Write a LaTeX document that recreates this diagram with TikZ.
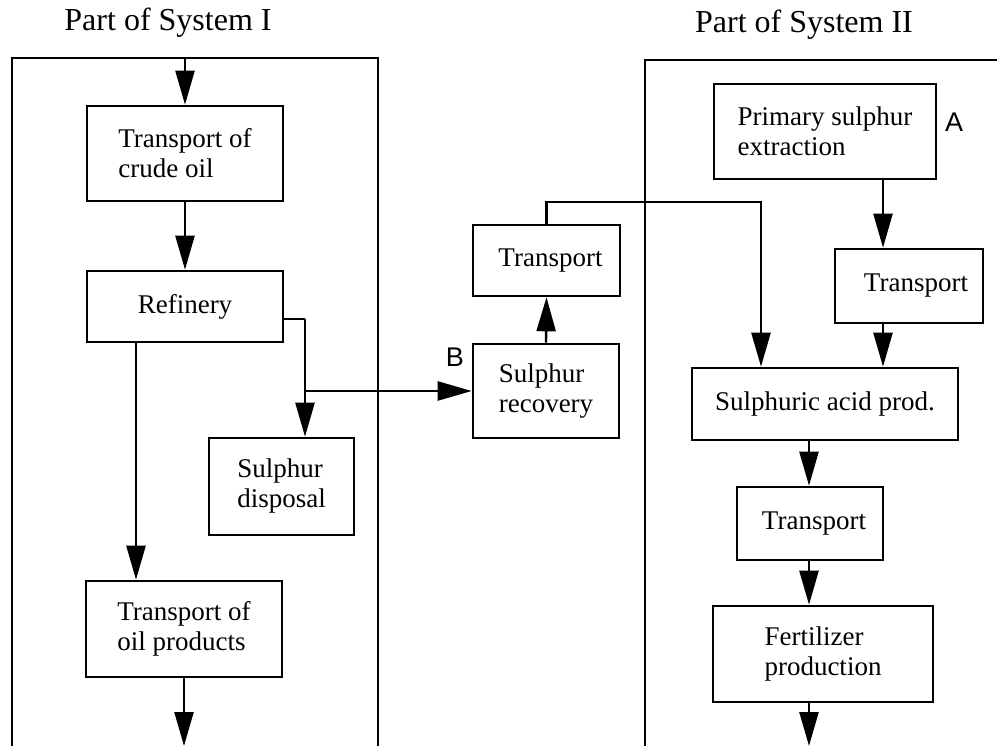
\documentclass[tikz,border=0pt]{standalone}
\usepackage{fontspec}
\setmainfont{Liberation Serif}
\newfontfamily\lettfont{Liberation Sans}
\usetikzlibrary{arrows.meta}
\begin{document}
\begin{tikzpicture}[x=1pt,y=-1pt,
  procbox/.style={draw,line width=2.6pt,inner sep=0pt,align=left,
    font=\fontsize{27}{30}\selectfont},
  frameline/.style={line width=2.4pt},
  conn/.style={line width=2.4pt},
  arr/.style={conn,-{Triangle[length=34pt,width=19pt]}},
  title/.style={font=\fontsize{32}{36}\selectfont},
  letter/.style={font=\lettfont\fontsize{27}{32}\selectfont}]
\useasboundingbox (0,0) rectangle (997,746);
% frames
\draw[frameline] (12,746) -- (12,58) -- (378,58) -- (378,746);
\draw[frameline] (645,746) -- (645,60) -- (997,60);
\node[title] (t1) at (168,23) {Part of System I};
\node[title] (t2) at (804,25) {Part of System II};
% System I boxes
\node[procbox,minimum width=196pt,minimum height=95pt] (crude) at (185,153.5) {Transport of\\crude oil};
\node[procbox,minimum width=196pt,minimum height=71pt] (ref) at (185,306.5) {Refinery};
\node[procbox,minimum width=145pt,minimum height=97pt] (disp) at (281.5,486.5) {Sulphur\\disposal};
\node[procbox,minimum width=196pt,minimum height=96pt] (oilp) at (184,629) {Transport of\\oil products};
% middle boxes
\node[procbox,minimum width=147pt,minimum height=71pt] (tl) at (546.5,260.5) {\hspace*{8pt}Transport};
\node[procbox,minimum width=146pt,minimum height=94pt] (rec) at (546,391) {Sulphur\\recovery};
% System II boxes
\node[procbox,minimum width=222pt,minimum height=95pt] (ps) at (825,131.5) {Primary sulphur\\extraction};
\node[procbox,minimum width=148pt,minimum height=74pt] (tr) at (909,286) {\hspace*{14pt}Transport};
\node[procbox,minimum width=266pt,minimum height=72pt] (sa) at (825,404) {Sulphuric acid prod.};
\node[procbox,minimum width=146pt,minimum height=73pt] (tb) at (810,523.5) {\hspace*{8pt}Transport};
\node[procbox,minimum width=220pt,minimum height=96pt] (fp) at (823,654) {Fertilizer\\production};
% letters
\node[letter] (la) at (954,122) {A};
\node[letter] (lb) at (455,357) {B};
% helper coordinates
\coordinate (in1) at (185,58);
\coordinate (out1) at (183,746);
\coordinate (out2) at (809,746);
\coordinate (xr) at (136,0);
\coordinate (j1) at (305,319);
\coordinate (j2) at (305,391);
\coordinate (c1) at (761,202);
\coordinate (xa) at (883,0);
\coordinate (xs) at (809,0);
% connectors System I
\draw[arr] (in1) -- (crude.north);
\draw[arr] (crude.south) -- (ref.north);
\draw[arr] (ref.south -| xr) -- (oilp.north -| xr);
\draw[arr] (oilp.south) -- (oilp.south |- out1);
\draw[conn] (ref.east |- j1) -- (j1);
\draw[arr] (j1) -- (disp.north -| j1);
\draw[arr] (j2) -- (rec.west |- j2);
% middle
\draw[arr] (rec.north) -- (tl.south);
\draw[arr] (tl.north) |- (c1) -- (c1 |- sa.north);
% System II
\draw[arr] (ps.south -| xa) -- (tr.north -| xa);
\draw[arr] (tr.south -| xa) -- (sa.north -| xa);
\draw[arr] (sa.south -| xs) -- (tb.north -| xs);
\draw[arr] (tb.south -| xs) -- (fp.north -| xs);
\draw[arr] (fp.south -| xs) -- (out2);
\end{tikzpicture}
\end{document}
